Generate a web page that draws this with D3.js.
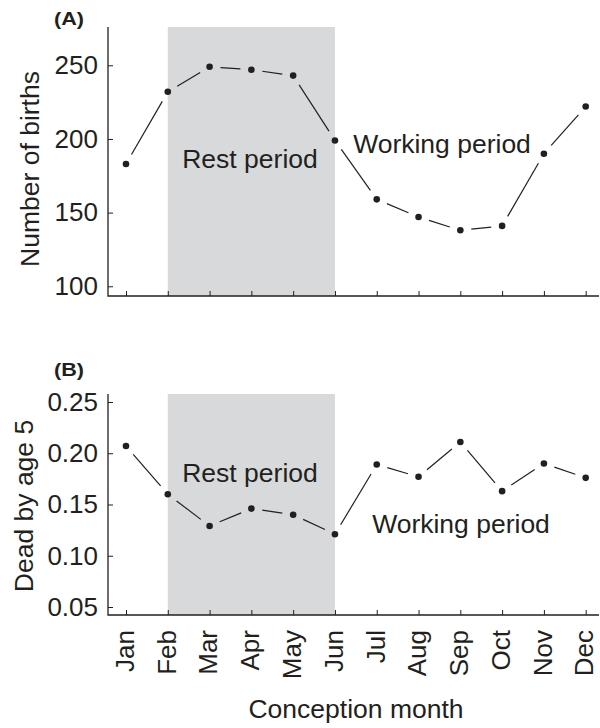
<!DOCTYPE html>
<html>
<head>
<meta charset="utf-8">
<script src="https://cdn.jsdelivr.net/npm/d3@7"></script>
<style>
  body { margin: 0; background: #fff; }
  svg text { font-family: "Liberation Sans", Arial, sans-serif; fill: #231f20; }
</style>
</head>
<body>
<div id="chart"></div>
<script>
// data
let months = ["Jan","Feb","Mar","Apr","May","Jun","Jul","Aug","Sep","Oct","Nov","Dec"];
let births = [183, 232, 249, 247, 243, 199, 159, 147, 138, 141, 190, 222];
let deadBy5 = [0.207, 0.160, 0.129, 0.146, 0.140, 0.121, 0.189, 0.177, 0.211, 0.163, 0.190, 0.176];
let birthTicks = [100, 150, 200, 250];
let deadTicks = [0.05, 0.10, 0.15, 0.20, 0.25];
let restStart = "Feb", restEnd = "Jun";

var W = 600, H = 728;
var left = 108, right = 599;
var ink = "#231f20";
var fs = "26px";

var svg = d3.select("#chart")
.append("svg")
  .attr("width", W)
  .attr("height", H);

var x = d3.scalePoint()
  .domain(months)
  .range([126, 585.7]);

let drawPanel = (opts) => {
  var g = svg.append("g");
  var y = d3.scaleLinear()
    .domain(opts.domain)
    .range([opts.bottom, opts.top]);

  // rest period shading
  g.append("rect")
    .attr("x", x(restStart))
    .attr("y", opts.top)
    .attr("width", x(restEnd) - x(restStart))
    .attr("height", opts.bottom - opts.top)
    .style("fill", "#d8d9da");

  // y axis
  var yAxis = d3.axisLeft(y)
    .tickValues(opts.ticks)
    .tickFormat(opts.fmt)
    .tickSizeInner(-5)
    .tickSizeOuter(0)
    .tickPadding(10);
  var ya = g.append("g")
    .attr("transform", "translate(" + left + ",0)")
    .call(yAxis);
  ya.select(".domain").remove();
  ya.selectAll("line").style("stroke", ink);
  ya.selectAll("text")
    .style("font-size", fs)
    .style("font-family", "'Liberation Sans', Arial, sans-serif")
    .attr("fill", ink);

  // x axis
  var xAxis = d3.axisBottom(x)
    .tickSizeInner(-5)
    .tickSizeOuter(0)
    .tickPadding(15);
  var xa = g.append("g")
    .attr("transform", "translate(0," + opts.bottom + ")")
    .call(xAxis);
  xa.select(".domain").remove();
  xa.selectAll("line").style("stroke", ink);
  if (opts.showMonths) {
    xa.selectAll("text")
      .style("font-size", fs)
      .style("font-family", "'Liberation Sans', Arial, sans-serif")
      .attr("fill", ink)
      .attr("text-anchor", "end")
      .attr("transform", "rotate(-90)")
      .attr("x", -15)
      .attr("y", 0)
      .attr("dy", "0.28em");
  } else {
    xa.selectAll("text").remove();
  }

  // axis lines
  g.append("path")
    .attr("d", "M" + left + "," + opts.top + "V" + opts.bottom + "H" + right)
    .style("fill", "none")
    .style("stroke", ink)
    .style("stroke-width", 1.3);

  // connecting segments, stopped short of each dot
  var pts = opts.values.map((v, i) => ({ px: x(months[i]), py: y(v) }));
  var gap = 11;
  g.selectAll(".seg")
    .data(d3.pairs(pts))
    .enter()
    .append("line")
      .attr("class", "seg")
      .each(function(d) {
        var dx = d[1].px - d[0].px, dy = d[1].py - d[0].py;
        var len = Math.sqrt(dx * dx + dy * dy);
        var ux = dx / len, uy = dy / len;
        d3.select(this)
          .attr("x1", d[0].px + ux * gap)
          .attr("y1", d[0].py + uy * gap)
          .attr("x2", d[1].px - ux * gap)
          .attr("y2", d[1].py - uy * gap);
      })
      .style("stroke", ink)
      .style("stroke-width", 1.2);

  g.selectAll(".dot")
    .data(pts)
    .enter()
    .append("circle")
      .attr("class", "dot")
      .attr("cx", d => d.px)
      .attr("cy", d => d.py)
      .attr("r", 3.3)
      .style("fill", ink);

  // annotations
  g.append("text")
    .attr("x", 250).attr("y", opts.restY)
    .attr("text-anchor", "middle")
    .style("font-size", "26.5px")
    .text("Rest period");
  g.append("text")
    .attr("x", opts.workX).attr("y", opts.workY)
    .attr("text-anchor", "middle")
    .style("font-size", "26.5px")
    .text("Working period");

  // panel letter
  g.append("text")
    .attr("x", 54).attr("y", opts.letterY)
    .attr("textLength", 30)
    .attr("lengthAdjust", "spacingAndGlyphs")
    .style("font-size", "18px")
    .style("font-weight", "bold")
    .text(opts.letter);

  // y title
  g.append("text")
    .attr("transform", "translate(" + opts.titleX + "," + opts.titleY + ") rotate(-90)")
    .attr("text-anchor", "middle")
    .style("font-size", "26.5px")
    .text(opts.title);
}

drawPanel({
  values: births, domain: [93.4, 276], top: 27, bottom: 296,
  ticks: birthTicks, fmt: d3.format("d"), showMonths: false,
  restY: 168, workX: 442, workY: 153, letter: "(A)", letterY: 25,
  title: "Number of births", titleX: 39, titleY: 169
});

drawPanel({
  values: deadBy5, domain: [0.0422, 0.2578], top: 394, bottom: 615,
  ticks: deadTicks, fmt: d3.format(".2f"), showMonths: true,
  restY: 482, workX: 461, workY: 533, letter: "(B)", letterY: 376,
  title: "Dead by age 5", titleX: 33, titleY: 506
});

svg.append("text")
  .attr("x", 356).attr("y", 718)
  .attr("text-anchor", "middle")
  .style("font-size", "26.5px")
  .text("Conception month");
</script>
</body>
</html>
